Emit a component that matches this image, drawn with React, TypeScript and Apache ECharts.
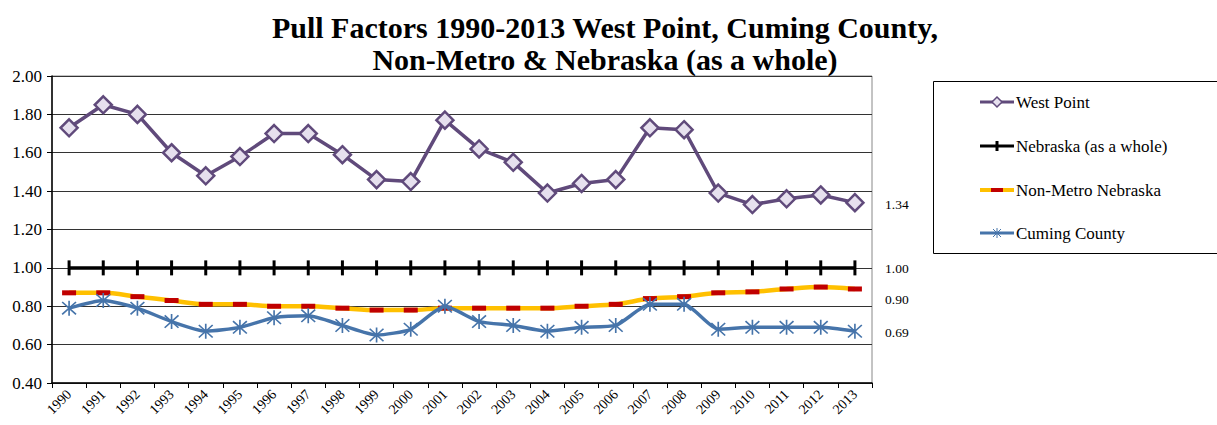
import React, { useEffect, useRef } from "react";
import * as echarts from "echarts";

const years = ["1990","1991","1992","1993","1994","1995","1996","1997","1998","1999","2000","2001","2002","2003","2004","2005","2006","2007","2008","2009","2010","2011","2012","2013"];
const westPoint = [1.73,1.85,1.80,1.60,1.48,1.58,1.70,1.70,1.59,1.46,1.45,1.77,1.62,1.55,1.39,1.44,1.46,1.73,1.72,1.39,1.33,1.36,1.38,1.34];
const nebraska = [1,1,1,1,1,1,1,1,1,1,1,1,1,1,1,1,1,1,1,1,1,1,1,1];
const nonMetro = [0.87,0.87,0.85,0.83,0.81,0.81,0.80,0.80,0.79,0.78,0.78,0.79,0.79,0.79,0.79,0.80,0.81,0.84,0.85,0.87,0.875,0.89,0.90,0.89];
const cuming = [0.79,0.83,0.79,0.72,0.67,0.69,0.74,0.75,0.70,0.65,0.68,0.80,0.72,0.70,0.67,0.69,0.70,0.81,0.81,0.68,0.69,0.69,0.69,0.67];
const seriesNames = ["West Point", "Nebraska (as a whole)", "Non-Metro Nebraska", "Cuming County"];
const endLabels = ["1.34", "1.00", "0.90", "0.69"];

const FONT = "'Liberation Serif', 'Times New Roman', serif";
const PURPLE = "#604a7b";
const BLUE = "#4674aa";
const YELLOW = "#ffc000";
const RED = "#c00000";
const ASTER = "path://M9,0L11,0L11,20L9,20Z M1,2.4L2.4,1L19,17.6L17.6,19Z M17.6,1L19,2.4L2.4,19L1,17.6Z";

export default function App() {
  const ref = useRef<HTMLDivElement>(null);
  useEffect(() => {
    if (!ref.current) return;
    const chart = echarts.init(ref.current, null, { renderer: "svg" });
    const legendY = [102, 146, 190, 233];
    const lx0 = 980, lx1 = 1014, lxc = 997;
    const legendGraphics: any[] = [
      { type: "rect", shape: { x: 933.5, y: 81.5, width: 300, height: 172 }, style: { fill: "#fff", stroke: "#000", lineWidth: 1 } },
      { type: "line", shape: { x1: lx0, y1: legendY[0], x2: lx1, y2: legendY[0] }, style: { stroke: PURPLE, lineWidth: 3 } },
      { type: "polygon", shape: { points: [[lxc, legendY[0] - 5], [lxc + 5, legendY[0]], [lxc, legendY[0] + 5], [lxc - 5, legendY[0]]] }, style: { fill: "#e6e0ee", stroke: PURPLE, lineWidth: 1.5 } },
      { type: "line", shape: { x1: lx0, y1: legendY[1], x2: lx1, y2: legendY[1] }, style: { stroke: "#000", lineWidth: 3 } },
      { type: "rect", shape: { x: lxc - 1.5, y: legendY[1] - 5, width: 3, height: 10 }, style: { fill: "#000" } },
      { type: "line", shape: { x1: lx0, y1: legendY[2], x2: lx1, y2: legendY[2] }, style: { stroke: YELLOW, lineWidth: 4 } },
      { type: "rect", shape: { x: lxc - 6, y: legendY[2] - 2, width: 12, height: 4 }, style: { fill: RED } },
      { type: "line", shape: { x1: lx0, y1: legendY[3], x2: lx1, y2: legendY[3] }, style: { stroke: BLUE, lineWidth: 3 } },
      { type: "line", shape: { x1: lxc, y1: legendY[3] - 5, x2: lxc, y2: legendY[3] + 5 }, style: { stroke: BLUE, lineWidth: 1 } },
      { type: "line", shape: { x1: lxc - 4, y1: legendY[3] - 4, x2: lxc + 4, y2: legendY[3] + 4 }, style: { stroke: BLUE, lineWidth: 1 } },
      { type: "line", shape: { x1: lxc + 4, y1: legendY[3] - 4, x2: lxc - 4, y2: legendY[3] + 4 }, style: { stroke: BLUE, lineWidth: 1 } },
    ];
    seriesNames.forEach((n, i) => {
      legendGraphics.push({ type: "text", x: 1016, y: legendY[i], style: { text: n, fontFamily: FONT, fontSize: 17, fill: "#000", verticalAlign: "middle", align: "left" } });
    });
    const endLabelY = [204, 268, 299, 332];
    endLabels.forEach((t, i) => {
      legendGraphics.push({ type: "text", x: 885, y: endLabelY[i], style: { text: t, fontFamily: FONT, fontSize: 13.5, fill: "#000", verticalAlign: "middle", align: "left" } });
    });

    chart.setOption({
      animation: false,
      backgroundColor: "#fff",
      title: {
        text: "Pull Factors 1990-2013 West Point, Cuming County,\nNon-Metro & Nebraska (as a whole)",
        left: 600,
        textAlign: "center",
        top: 6,
        textStyle: { fontFamily: FONT, fontSize: 30, fontWeight: "bold", color: "#000", lineHeight: 32 },
      },
      grid: { left: 52, right: 345, top: 76, bottom: 42, show: true, borderColor: "#888", borderWidth: 1 },
      xAxis: {
        type: "category",
        data: years,
        boundaryGap: true,
        axisLine: { lineStyle: { color: "#000", width: 1.5 } },
        axisTick: { show: true, length: 5, lineStyle: { color: "#000" } },
        axisLabel: { rotate: 45, fontFamily: FONT, fontSize: 14, color: "#000", margin: 9, interval: 0 },
      },
      yAxis: {
        type: "value",
        min: 0.4,
        max: 2.0,
        interval: 0.2,
        axisLine: { show: true, lineStyle: { color: "#000", width: 1.5 } },
        axisTick: { show: true, length: 5, lineStyle: { color: "#000" } },
        axisLabel: { fontFamily: FONT, fontSize: 17, color: "#000", margin: 10, formatter: (v: number) => v.toFixed(2) },
        splitLine: { lineStyle: { color: "#333", width: 1 } },
      },
      series: [
        {
          name: seriesNames[1], type: "line", data: nebraska,
          lineStyle: { color: "#000", width: 3.5 }, itemStyle: { color: "#000" },
          symbol: "rect", symbolSize: [3, 15], z: 2,
        },
        {
          name: seriesNames[2], type: "line", data: nonMetro, smooth: 0.3,
          lineStyle: { color: YELLOW, width: 4.5 }, itemStyle: { color: RED },
          symbol: "rect", symbolSize: [14, 5], z: 3,
        },
        {
          name: seriesNames[3], type: "line", data: cuming, smooth: 0.2,
          lineStyle: { color: BLUE, width: 3.5 }, itemStyle: { color: BLUE },
          symbol: ASTER, symbolSize: 15, z: 4,
        },
        {
          name: seriesNames[0], type: "line", data: westPoint,
          lineStyle: { color: PURPLE, width: 3.5 },
          itemStyle: { color: "#e6e0ee", borderColor: PURPLE, borderWidth: 2.5 },
          symbol: "diamond", symbolSize: 17, z: 5,
        },
      ],
      graphic: legendGraphics,
    });
    return () => chart.dispose();
  }, []);
  return <div ref={ref} style={{ width: 1217, height: 425, position: "absolute", left: 0, top: 0 }} />;
}
